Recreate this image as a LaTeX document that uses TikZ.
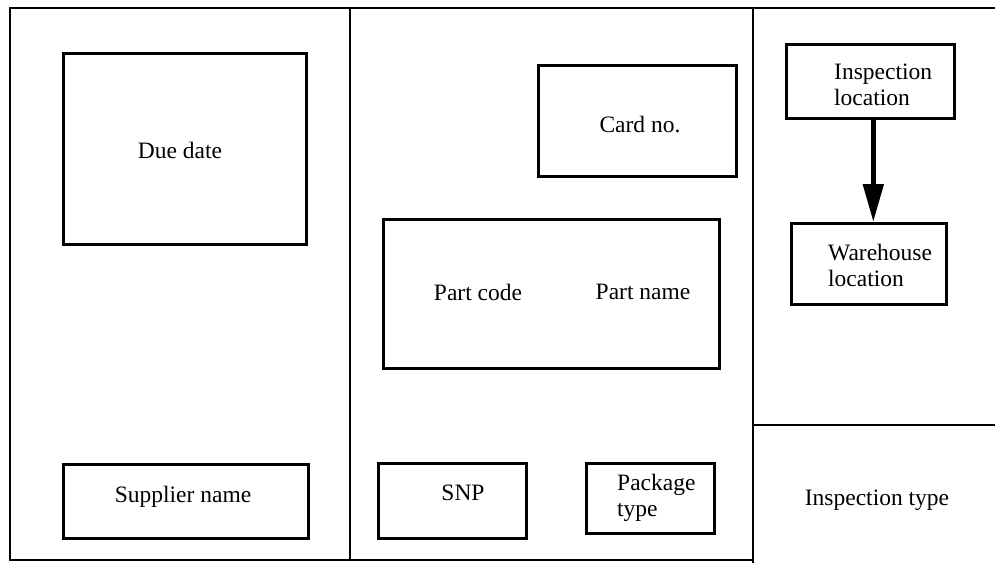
\documentclass[tikz,border=0pt]{standalone}
\usepackage{fontspec}
\setmainfont{Liberation Serif}
\usetikzlibrary{arrows.meta}
\begin{document}
\begin{tikzpicture}[x=1pt,y=-1pt,
  frame/.style={line width=2.6pt},
  thinframe/.style={line width=1.8pt},
  box/.style={draw,line width=2.6pt,inner sep=0pt,anchor=north west},
  txt/.style={font=\fontsize{23.5}{26}\selectfont,inner sep=0pt},
  ltxt/.style={txt,align=left}]
\useasboundingbox (0,0) rectangle (995,563);
% frame
\coordinate (tl) at (10,8);
\coordinate (tr) at (995,8);
\coordinate (bl) at (10,560);
\coordinate (bm) at (753,560);
\coordinate (m1t) at (350,8);
\coordinate (m1b) at (350,560);
\coordinate (m2t) at (753,8);
\coordinate (m2b) at (753,563);
\coordinate (hl) at (753,425);
\coordinate (hr) at (995,425);
\draw[frame] (tr) -- (tl) -- (bl) -- (bm);
\draw[frame] (m1t) -- (m1b);
\draw[frame] (m2t) -- (m2b);
\draw[thinframe] (hl) -- (hr);
% left column
\node[box,minimum width=243pt,minimum height=191pt] (due) at (62,52) {};
\node[txt] (duet) at (180,150) {Due date};
\node[box,minimum width=245pt,minimum height=74pt] (sup) at (62,463) {};
\node[txt] (supt) at (183,497) {Supplier name};
% middle column
\node[box,minimum width=198pt,minimum height=111pt] (card) at (537,64) {};
\node[txt] (cardt) at (640,125) {Card no.};
\node[box,minimum width=336pt,minimum height=149pt] (part) at (382,218) {};
\node[txt] (pcode) at (478,292) {Part code};
\node[txt] (pname) at (643,292) {Part name};
\node[box,minimum width=148pt,minimum height=75pt] (snp) at (377,462) {};
\node[txt] (snpt) at (463,493) {SNP};
\node[box,minimum width=128pt,minimum height=70pt] (pkg) at (585,462) {};
\node[ltxt,anchor=west] (pkgt) at (617,498) {Package\\type};
% right column
\node[box,minimum width=168pt,minimum height=74pt] (insp) at (785,43) {};
\node[ltxt,anchor=west] (inspt) at (834,85) {Inspection\\location};
\node[box,minimum width=155pt,minimum height=81pt] (ware) at (790,222) {};
\node[ltxt,anchor=west] (waret) at (828,265) {Warehouse\\location};
\draw[line width=5pt,-{Triangle[width=20pt,length=38pt]}] ([xshift=3pt]insp.south) -- ([xshift=4.5pt]ware.north);
\node[txt] (itype) at (877,500) {Inspection type};
\end{tikzpicture}
\end{document}
